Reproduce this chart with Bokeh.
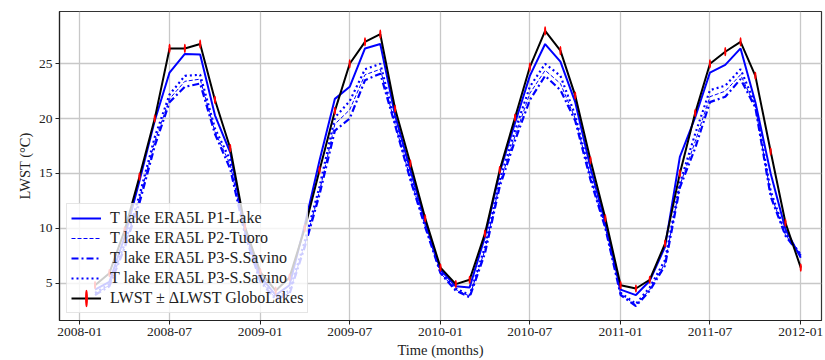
from datetime import datetime
import pandas as pd
from bokeh.plotting import figure
from bokeh.models import (Range1d, FixedTicker, DatetimeTickFormatter, Legend, LegendItem,
                          ColumnDataSource)
from bokeh.embed import file_html
from bokeh.resources import INLINE

# ---------------- data (monthly, 2008-02 .. 2012-01) ----------------
months = pd.date_range("2008-02-01", "2012-01-01", freq="MS")

lwst_globolakes = [
    4.8, 5.9, 9.8, 14.7, 20.0, 26.4, 26.4, 26.8, 21.7, 17.3, 10.1,
    6.0, 4.3, 5.5, 10.0, 15.3, 20.7, 25.0, 27.0, 27.7, 20.9, 15.9, 10.9,
    6.4, 4.9, 5.3, 9.5, 15.3, 20.1, 24.7, 28.0, 26.2, 22.1, 16.2, 10.9,
    4.8, 4.5, 5.3, 8.6, 15.0, 20.5, 25.0, 26.1, 27.0, 23.9, 17.0, 10.5,
    6.4,
]
dlwst_globolakes = [
    0.3, 0.3, 0.3, 0.3, 0.3, 0.35, 0.35, 0.35, 0.3, 0.3, 0.3,
    0.3, 0.3, 0.3, 0.3, 0.3, 0.3, 0.35, 0.35, 0.35, 0.3, 0.3, 0.3,
    0.3, 0.3, 0.3, 0.3, 0.3, 0.3, 0.35, 0.35, 0.35, 0.3, 0.3, 0.3,
    0.3, 0.3, 0.3, 0.3, 0.3, 0.3, 0.35, 0.35, 0.35, 0.3, 0.3, 0.3,
    0.3,
]
t_p1_lake = [
    4.4, 5.1, 9.2, 14.3, 19.8, 24.2, 25.9, 25.85, 20.3, 16.9, 9.8,
    5.6, 3.9, 4.8, 10.3, 16.2, 21.8, 22.9, 26.4, 26.8, 20.3, 15.3, 10.6,
    6.2, 4.7, 4.6, 9.2, 15.1, 19.6, 23.9, 26.8, 25.2, 21.5, 15.5, 10.5,
    4.4, 3.9, 5.2, 8.3, 16.5, 20.1, 24.2, 24.9, 26.4, 21.5, 15.0, 9.9,
    7.3,
]
t_p2_tuoro = [
    4.0, 4.8, 8.4, 12.7, 17.9, 21.8, 23.4, 23.6, 18.8, 15.8, 9.5,
    5.2, 3.6, 4.1, 8.5, 13.4, 19.5, 20.8, 24.0, 24.5, 19.5, 14.5, 10.2,
    5.9, 4.4, 3.8, 8.0, 14.1, 18.4, 22.3, 24.4, 23.2, 20.0, 14.6, 10.1,
    4.0, 3.0, 4.4, 6.8, 13.9, 17.9, 22.0, 22.5, 24.0, 21.1, 13.1, 9.4,
    7.5,
]
t_p3_savino_dashdot = [
    3.9, 4.7, 8.2, 12.3, 17.5, 21.5, 22.9, 23.2, 18.6, 15.4, 9.4,
    5.1, 3.5, 4.0, 8.3, 13.1, 18.9, 20.0, 23.5, 24.1, 19.4, 14.4, 10.1,
    5.9, 4.3, 3.7, 7.7, 13.8, 18.0, 21.7, 23.9, 22.6, 19.8, 14.4, 10.0,
    3.9, 2.9, 4.3, 6.6, 13.7, 17.3, 21.5, 22.0, 23.6, 21.0, 12.9, 9.3,
    7.5,
]
t_p3_savino_dotted = [
    4.1, 4.9, 8.6, 13.0, 18.3, 22.2, 23.9, 24.0, 19.1, 16.2, 9.6,
    5.3, 3.7, 4.3, 8.8, 13.8, 20.1, 21.6, 24.5, 25.0, 19.7, 14.7, 10.3,
    6.0, 4.5, 3.9, 8.3, 14.4, 18.9, 22.9, 25.0, 23.9, 20.3, 14.8, 10.2,
    4.1, 3.1, 4.6, 7.1, 14.1, 18.6, 22.6, 23.0, 24.5, 21.3, 13.4, 9.5,
    7.6,
]

tick_dates = ["2008-01-01", "2008-07-01", "2009-01-01", "2009-07-01", "2010-01-01",
              "2010-07-01", "2011-01-01", "2011-07-01", "2012-01-01"]
tick_labels = ["2008-01", "2008-07", "2009-01", "2009-07", "2010-01",
               "2010-07", "2011-01", "2011-07", "2012-01"]

legend_labels = ["T lake ERA5L P1-Lake", "T lake ERA5L P2-Tuoro", "T lake ERA5L P3-S.Savino",
                 "T lake ERA5L P3-S.Savino", "LWST ± ΔLWST GloboLakes"]

FONT = "Liberation Serif"

# ---------------- figure ----------------
p = figure(width=825, height=360, x_axis_type="datetime",
           output_backend="svg", toolbar_location=None,
           x_range=Range1d(datetime(2007, 11, 21), datetime(2012, 2, 12)),
           y_range=Range1d(1.58, 29.77),
           min_border_left=59, min_border_right=4, min_border_top=11, min_border_bottom=40)
p.background_fill_color = "white"
p.border_fill_color = "white"
p.outline_line_color = "#333333"
p.outline_line_width = 1.2

tick_ms = [pd.Timestamp(d).value // 10**6 for d in tick_dates]
p.xaxis.ticker = FixedTicker(ticks=tick_ms)
p.xaxis.formatter = DatetimeTickFormatter(months="%Y-%m", days="%Y-%m", years="%Y-%m")
p.xaxis.major_label_overrides = {t: l for t, l in zip(tick_ms, tick_labels)}
p.yaxis.ticker = FixedTicker(ticks=[5, 10, 15, 20, 25])

for ax in (p.xaxis[0], p.yaxis[0]):
    ax.major_label_text_font = FONT
    ax.major_label_text_font_size = "13.5px"
    ax.major_label_text_color = "#222222"
    ax.axis_label_text_font = FONT
    ax.axis_label_text_font_size = "14.5px"
    ax.axis_label_text_font_style = "normal"
    ax.axis_label_text_color = "#222222"
    ax.axis_line_color = "#222222"
    ax.axis_line_width = 1.2
    ax.major_tick_line_color = "#222222"
    ax.major_tick_out = 4
    ax.major_tick_in = 0
    ax.minor_tick_out = 0
    ax.minor_tick_in = 0
    ax.major_label_standoff = 3
    ax.axis_label_standoff = 3

p.xaxis.axis_label = "Time (months)"
p.yaxis.axis_label = "LWST (°C)"

p.xgrid.ticker = FixedTicker(ticks=tick_ms)
p.grid.grid_line_color = "#c8c8c8"
p.grid.grid_line_width = 1.3

# ---------------- series ----------------
src = ColumnDataSource(dict(
    t=months, obs=lwst_globolakes,
    span=[2 * e for e in dlwst_globolakes],
    p1=t_p1_lake, p2=t_p2_tuoro, p3a=t_p3_savino_dashdot, p3b=t_p3_savino_dotted,
))

r1 = p.line("t", "p1", source=src, line_color="#0000ff", line_width=2)
r2 = p.line("t", "p2", source=src, line_color="#0000ff", line_width=1, line_dash="4 2")
r3 = p.line("t", "p3a", source=src, line_color="#0000ff", line_width=2.2, line_dash="7 3 2 3")
r4 = p.line("t", "p3b", source=src, line_color="#0000ff", line_width=2.2, line_dash="2 3")
r5 = p.line("t", "obs", source=src, line_color="black", line_width=2)
# error bars: thin vertical bars spanning obs ± err (height in data units)
r6 = p.ellipse(x="t", y="obs", width=0.5, height="span", source=src,
               width_units="screen", height_units="data",
               fill_color="#ff0000", line_color="#ff0000", line_width=1.6)

legend = Legend(items=[
    LegendItem(label=legend_labels[0], renderers=[r1]),
    LegendItem(label=legend_labels[1], renderers=[r2]),
    LegendItem(label=legend_labels[2], renderers=[r3]),
    LegendItem(label=legend_labels[3], renderers=[r4]),
    LegendItem(label=legend_labels[4], renderers=[r5, r6]),
], location="bottom_left")
legend.margin = 7
legend.padding = 4
legend.spacing = 0
legend.glyph_width = 30
legend.glyph_height = 20
legend.label_height = 20
legend.label_standoff = 9
legend.label_text_font = FONT
legend.label_text_font_size = "16px"
legend.label_text_color = "#222222"
legend.background_fill_color = "white"
legend.background_fill_alpha = 0.8
legend.border_line_color = "#cccccc"
legend.border_line_width = 1
p.add_layout(legend, "center")

open("out.html", "w").write(file_html(p, INLINE))
